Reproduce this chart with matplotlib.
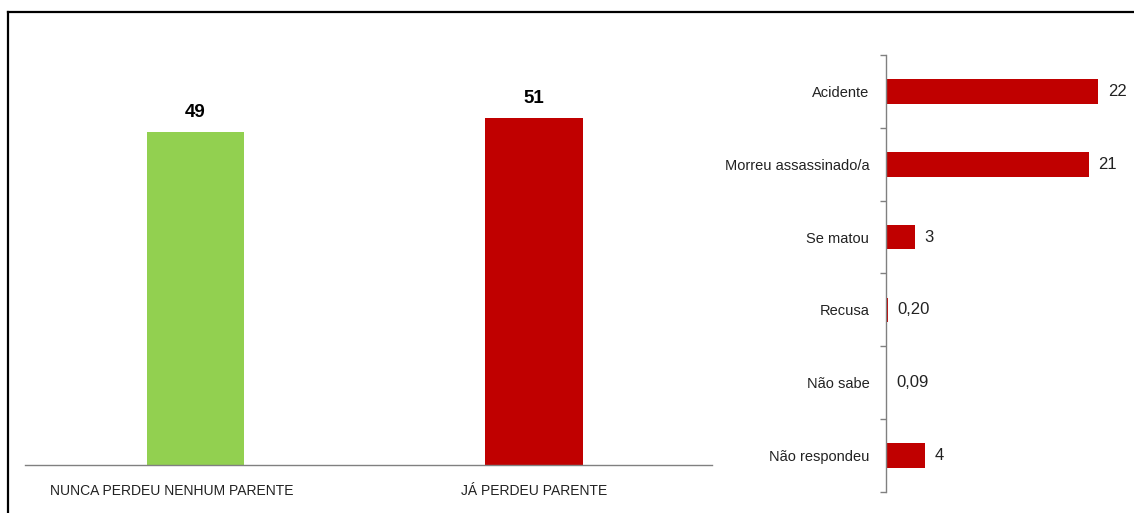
import matplotlib.pyplot as plt
import matplotlib.transforms as mtransforms
from matplotlib.lines import Line2D
import numpy as np

plt.rcParams['font.family'] = ['Liberation Sans', 'DejaVu Sans']

# parentes perdidos
grupos = ['NUNCA PERDEU NENHUM PARENTE', 'JÁ PERDEU PARENTE']
grupos_val = [49, 51]
grupos_cor = ['#92D050', '#C00000']

# causa da morte
causas = ['Acidente', 'Morreu assassinado/a', 'Se matou', 'Recusa', 'Não sabe', 'Não respondeu']
causas_val = [22, 21, 3, 0.20, 0.09, 4]
causas_txt = ['22', '21', '3', '0,20', '0,09', '4']

W, H = 1134, 513
fig = plt.figure(figsize=(W / 100, H / 100), dpi=100)

# moldura
fig.add_artist(Line2D([8 / W, 1], [1 - 12 / H, 1 - 12 / H], color='black', lw=1.6))
fig.add_artist(Line2D([8 / W, 8 / W], [0, 1 - 12 / H], color='black', lw=1.6))

# grafico da esquerda
ax1 = fig.add_axes([25 / W, 1 - 465 / H, 687 / W, 410 / H])
x = np.arange(len(grupos))
ax1.bar(x, grupos_val, width=0.287, color=grupos_cor)
for xi, v in zip(x, grupos_val):
    ax1.text(xi, v + 1.6, str(v), ha='center', va='bottom', fontsize=13.5, fontweight='bold')
ax1.set_xlim(-0.504, 1.526)
ax1.set_ylim(0, 60.3)
ax1.set_xticks(x)
ax1.set_xticklabels(grupos, fontsize=10, color='#222222')
ax1.tick_params(axis='x', length=0, pad=14)
# rotulo longo fica um pouco a esquerda da barra
lbl = ax1.get_xticklabels()[0]
lbl.set_transform(lbl.get_transform() + mtransforms.ScaledTranslation(-0.24, 0, fig.dpi_scale_trans))
ax1.set_yticks([])
for s in ['top', 'right', 'left']:
    ax1.spines[s].set_visible(False)
ax1.spines['bottom'].set_color('#808080')
ax1.spines['bottom'].set_linewidth(1.0)

# grafico da direita
ax2 = fig.add_axes([886 / W, 1 - 492 / H, 245 / W, 437 / H])
y = np.arange(len(causas))
ax2.barh(y, causas_val, height=0.34, color='#C00000')
for yi, v, t in zip(y, causas_val, causas_txt):
    ax2.text(v + 1.0, yi, t, ha='left', va='center', fontsize=12, color='#222222')
ax2.set_ylim(len(causas) - 0.5, -0.5)
ax2.set_xlim(0, 25.4)
ax2.set_yticks(y)
ax2.set_yticklabels(causas, fontsize=10.5, color='#222222')
ax2.set_yticks(np.arange(-0.5, len(causas)), minor=True)
ax2.tick_params(axis='y', which='major', length=0, pad=12)
ax2.tick_params(axis='y', which='minor', length=4, color='#808080', width=1)
ax2.set_xticks([])
for s in ['top', 'right', 'bottom']:
    ax2.spines[s].set_visible(False)
ax2.spines['left'].set_color('#808080')
ax2.spines['left'].set_linewidth(1.0)

fig.savefig('out.png', dpi=100)
